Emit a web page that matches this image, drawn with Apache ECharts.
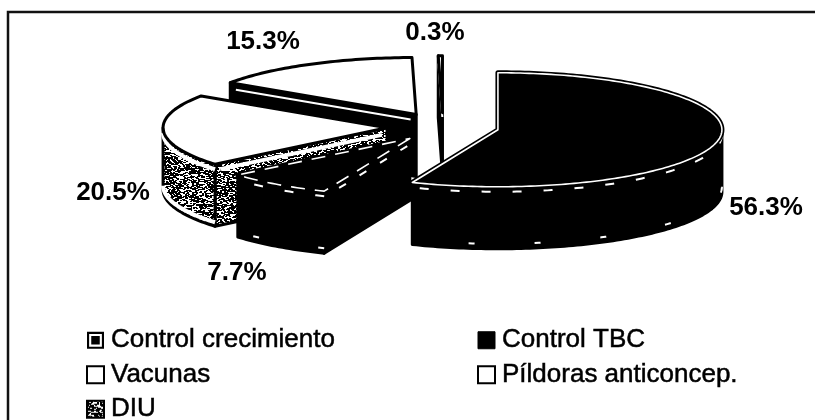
<!DOCTYPE html>
<html>
<head>
<meta charset="utf-8">
<style>
    html, body { margin: 0; padding: 0; background: #fff; }
    #main { width: 815px; height: 420px; }
</style>
<script src="https://cdn.jsdelivr.net/npm/echarts@6/dist/echarts.min.js"></script>
</head>
<body>
<div id="main"></div>
<script>
var categories = ['Control crecimiento', 'Control TBC', 'DIU', 'Vacunas', 'Píldoras anticoncep.'];
var values = [56.3, 7.7, 20.5, 15.3, 0.3];
var labels = ['56.3%', '7.7%', '20.5%', '15.3%', '0.3%'];
var legendLeft = ['Control crecimiento', 'Vacunas', 'DIU'];
var legendRight = ['Control TBC', 'Píldoras anticoncep.'];

// pie geometry
var cx = 443, cy = 127, rx = 224, ry = 57, depth = 62, explode = 0.25;
// back to front
var drawOrder = [3, 4, 2, 1, 0];
var labelPos = [[766, 208], [237, 273], [113, 193], [263, 42], [435, 33]];

var total = values.reduce(function(a, b) { return a + b; }, 0);

// fill for the DIU side, a fixed hash so it looks the same on every run
function speckle(size) {
    var c = document.createElement('canvas');
    c.width = c.height = size;
    var ctx = c.getContext('2d');
    ctx.fillStyle = '#fff';
    ctx.fillRect(0, 0, size, size);
    ctx.fillStyle = '#000';
    for (var y = 0; y < size; y++) {
        for (var x = 0; x < size; x++) {
            var h = Math.sin(x * 12.9898 + y * 78.233) * 43758.5453;
            if (h - Math.floor(h) < 0.42) ctx.fillRect(x, y, 2, 1);
        }
    }
    return c;
}
var speckled = { image: speckle(96), repeat: 'repeat' };

// top colour, side colour, line on the top face, dash of that line
var looks = [
    { top: '#000', side: '#000', inner: '#fff', dash: null, edge: '#fff' },
    { top: '#000', side: '#000', inner: '#fff', dash: [14, 10], edge: '#fff' },
    { top: '#fff', side: speckled, inner: null, dash: null, edge: '#fff' },
    { top: '#fff', side: '#000', inner: null, dash: null, edge: '#fff' },
    { top: '#fff', side: '#000', inner: null, dash: null, edge: '#fff' }
];

function sliceAngles(idx) {
    var sum = 0;
    for (var i = 0; i < idx; i++) sum += values[i];
    return [sum / total * Math.PI * 2, (sum + values[idx]) / total * Math.PI * 2];
}

function rim(c, t) {
    return [c[0] + rx * Math.sin(t), c[1] - ry * Math.cos(t)];
}

function arcPoints(c, a, b, dy) {
    var pts = [];
    var n = Math.max(2, Math.ceil((b - a) / 0.02));
    for (var i = 0; i <= n; i++) {
        var p = rim(c, a + (b - a) * i / n);
        pts.push([p[0], p[1] + (dy || 0)]);
    }
    return pts;
}

function wallVisible(c, t, mid) {
    var p = rim(c, t);
    var m = rim(c, mid);
    var dx = p[0] - c[0];
    if (Math.abs(dx) < 2) return false;
    var mx = c[0] + (m[0] - c[0]) * 0.2, my = c[1] + (m[1] - c[1]) * 0.2;
    var edgeY = c[1] + (p[1] - c[1]) * (mx - c[0]) / dx;
    return my < edgeY;
}

function renderSlice(params, api) {
    var idx = api.value(0);
    var look = looks[idx];
    var ang = sliceAngles(idx);
    var a = ang[0], b = ang[1], mid = (a + b) / 2;
    var c = [cx + explode * rx * Math.sin(mid), cy - explode * ry * Math.cos(mid)];
    var children = [];

    function poly(points, style) {
        children.push({ type: 'polygon', shape: { points: points }, style: style });
    }
    function line(points, stroke, width, dash) {
        children.push({ type: 'polyline', shape: { points: points },
            style: { fill: null, stroke: stroke, lineWidth: width, lineDash: dash || null } });
    }

    [a, b].forEach(function(t) {
        if (!wallVisible(c, t, mid)) return;
        var p = rim(c, t);
        var wall = [c, p, [p[0], p[1] + depth], [c[0], c[1] + depth]];
        poly(wall, { fill: look.side, stroke: '#000', lineWidth: 3, lineJoin: 'round' });
        line([[c[0] + (p[0] - c[0]) * 0.03, c[1] + (p[1] - c[1]) * 0.03 + 6], [p[0] - (p[0] - c[0]) * 0.03, p[1] - (p[1] - c[1]) * 0.03 + 6]],
            look.edge, idx == 2 ? 4 : 2, idx < 2 ? [8, 16] : null);
    });

    var from = Math.max(a, Math.PI / 2), to = Math.min(b, Math.PI * 1.5);
    if (to > from) {
        var topEdge = arcPoints(c, from, to, 0);
        var bottomEdge = arcPoints(c, from, to, depth).reverse();
        poly(topEdge.concat(bottomEdge), { fill: look.side, stroke: '#000', lineWidth: 3, lineJoin: 'round' });
        line(arcPoints(c, from, to, 5), look.edge, idx == 2 ? 4 : 2, idx < 2 ? [9, 22] : null);
        if (idx < 2) line(arcPoints(c, from, to, depth - 5), '#fff', 2, [6, 60]);
        if (idx == 2) line(arcPoints(c, from, to, depth - 4), '#fff', 4);
    }

    var face = [c].concat(arcPoints(c, a, b, 0));
    poly(face, { fill: look.top, stroke: '#000', lineWidth: look.inner ? 5 : 3, lineJoin: 'round' });
    if (look.inner) {
        children.push({ type: 'polygon', shape: { points: face },
            style: { fill: null, stroke: look.inner, lineWidth: 1.6, lineJoin: 'round', lineDash: look.dash } });
    }

    children.push({
        type: 'text',
        style: {
            text: labels[idx], x: labelPos[idx][0], y: labelPos[idx][1],
            align: 'center', verticalAlign: 'middle',
            font: 'bold 26px "Liberation Sans", Arial, sans-serif', fill: '#000'
        }
    });
    return { type: 'group', children: children };
}

var legendIcons = {
    'Control crecimiento': 'path://M0 0H16V16H0ZM2 2V14H14V2ZM4 4H12V12H4Z',
    'Control TBC': 'rect',
    'Vacunas': 'rect',
    'Píldoras anticoncep.': 'rect',
    'DIU': 'rect'
};
var legendStyles = {
    'Control crecimiento': { color: '#000', borderWidth: 0 },
    'Control TBC': { color: '#000', borderColor: '#000', borderWidth: 1 },
    'Vacunas': { color: '#fff', borderColor: '#000', borderWidth: 2 },
    'Píldoras anticoncep.': { color: '#fff', borderColor: '#000', borderWidth: 2 },
    'DIU': { color: speckled, borderColor: '#000', borderWidth: 2 }
};

function legendData(names) {
    return names.map(function(n) {
        return { name: n, icon: legendIcons[n], itemStyle: legendStyles[n] };
    });
}

function legendBlock(names, left) {
    return {
        orient: 'vertical', left: left, top: 327, height: 120, padding: 0,
        itemWidth: 17, itemHeight: 17, itemGap: 8,
        selectedMode: false,
        textStyle: {
            fontFamily: '"Liberation Sans", Arial, sans-serif', fontSize: 26, color: '#000',
            textBorderColor: '#000', textBorderWidth: 0.5, padding: [0, 0, 0, 2]
        },
        data: legendData(names)
    };
}

var myChart = echarts.init(document.getElementById('main'));
myChart.setOption({
    animation: false,
    backgroundColor: '#fff',
    graphic: [{
        type: 'polyline',
        shape: { points: [[8, 420], [8, 12], [815, 12]] },
        style: { fill: null, stroke: '#111', lineWidth: 2.5 }
    }],
    legend: [legendBlock(legendLeft, 86), legendBlock(legendRight, 477)],
    series: drawOrder.map(function(i, order) {
        return {
            type: 'custom',
            name: categories[i],
            z: 2 + order,
            coordinateSystem: 'none',
            renderItem: renderSlice,
            encode: { value: 0 },
            data: [[i, values[i]]]
        };
    })
});
</script>
</body>
</html>
